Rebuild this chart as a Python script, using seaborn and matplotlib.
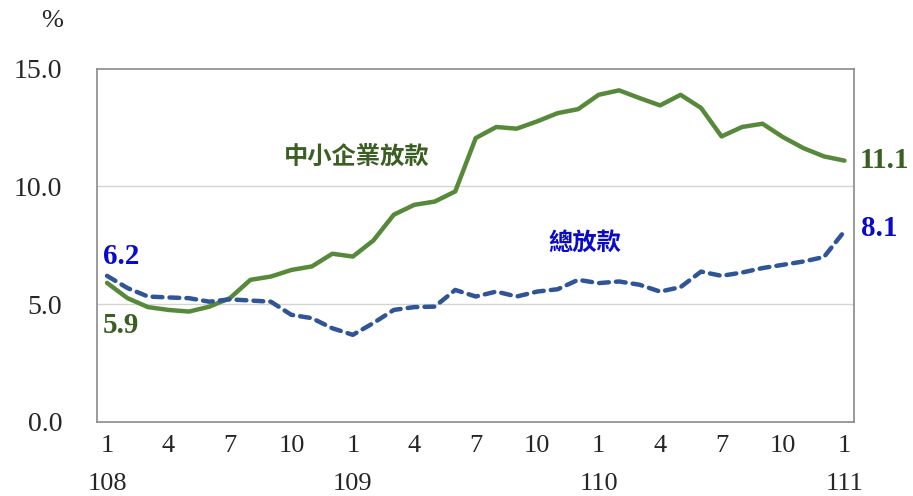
import numpy as np
import pandas as pd
import matplotlib.pyplot as plt
import matplotlib.transforms as mtransforms
from matplotlib.ticker import FixedLocator
import seaborn as sns

# ── Data (年增率, %) ──────────────────────────────────────────────
months = list(range(37))          # 108/1 .. 111/1
sme_loans = [5.9, 5.25, 4.87, 4.75, 4.68, 4.89, 5.25, 6.03, 6.17, 6.45,
             6.6, 7.14, 7.02, 7.7, 8.8, 9.22, 9.36, 9.79, 12.06, 12.53,
             12.46, 12.77, 13.12, 13.29, 13.9, 14.09, 13.76, 13.45, 13.9, 13.34,
             12.13, 12.53, 12.67, 12.1, 11.63, 11.28, 11.1]
total_loans = [6.2, 5.68, 5.32, 5.28, 5.25, 5.1, 5.2, 5.15, 5.1, 4.54,
               4.4, 3.97, 3.69, 4.19, 4.75, 4.87, 4.89, 5.6, 5.32, 5.53,
               5.32, 5.53, 5.63, 6.03, 5.89, 5.96, 5.82, 5.53, 5.72, 6.38,
               6.2, 6.34, 6.53, 6.67, 6.81, 7.0, 8.1]
month_labels = ['1', '4', '7', '10'] * 3 + ['1']
year_labels = ['108', '109', '110', '111']
yticks = [0, 5, 10, 15]

df = pd.DataFrame({'m': months, 'sme': sme_loans, 'total': total_loans})

green = '#568a3a'
green_txt = '#3b5e22'
blue = '#2f5597'
blue_txt = '#0a0acc'

# ── Style ─────────────────────────────────────────────────────────
sns.set_style('white')
plt.rcParams['font.family'] = ['Liberation Serif', 'Noto Sans CJK TC']

fig = plt.figure(figsize=(9.13, 4.96), dpi=100)
ax = fig.add_axes([0.106, 0.150, 0.829, 0.711])

# ── Lines ─────────────────────────────────────────────────────────
sns.lineplot(data=df, x='m', y='sme', color=green, lw=3.2, ax=ax,
             solid_capstyle='round')
sns.lineplot(data=df, x='m', y='total', color=blue, lw=3.2, ax=ax,
             linestyle=(0, (2.2, 1.6)), dash_capstyle='round')

ax.set_xlim(-0.5, 36.45)
ax.set_ylim(0, 15)
ax.set_xlabel('')
ax.set_ylabel('')

# grid + spines
for v in yticks[1:3]:
    ax.axhline(v, color='#d4d4d4', lw=1, zorder=0)
for s in ax.spines.values():
    s.set_color('#8a8a8a')
    s.set_linewidth(1.2)

# y axis
ax.set_yticks(yticks)
ax.set_yticklabels([f'{v:.1f}' for v in yticks], fontsize=20)
ax.tick_params(axis='y', direction='in', length=6, width=1, color='#555555', pad=25)

# x axis: short ticks at months, taller at month boundaries
lab = [''] * len(months)
for k, i in enumerate(range(0, 37, 3)):
    lab[i] = month_labels[k]
ax.xaxis.set_major_locator(FixedLocator(months))
ax.set_xticklabels(lab, fontsize=19)
ax.xaxis.set_minor_locator(FixedLocator([m + 0.5 for m in months[:-1]]))
ax.tick_params(axis='x', which='major', direction='in', length=4, width=1,
               color='#444444', pad=10)
ax.tick_params(axis='x', which='minor', direction='in', length=7, width=1,
               color='#444444')

trans = mtransforms.blended_transform_factory(ax.transData, ax.transAxes)
for k, y in enumerate(year_labels):
    ax.text(12 * k, -0.178, y, transform=trans, ha='center', va='center',
            fontsize=19)

# unit
ax.text(-0.045, 1.135, '%', transform=ax.transAxes, ha='right', va='center',
        fontsize=19)

# ── Labels ────────────────────────────────────────────────────────
ax.text(12.2, 11.26, '中小企業放款', color=green_txt, fontsize=17.5,
        fontweight='bold', ha='center', va='center',
        family=['Noto Sans CJK TC'])
ax.text(23.3, 7.6, '總放款', color=blue_txt, fontsize=17.5,
        fontweight='bold', ha='center', va='center',
        family=['Noto Sans CJK TC'])

ax.annotate(f'{total_loans[0]:.1f}', (months[0], total_loans[0]),
            xytext=(-3, 14), textcoords='offset points', color=blue_txt,
            fontsize=21, fontweight='bold', ha='left', va='center')
ax.annotate(f'{sme_loans[0]:.1f}', (months[0], sme_loans[0]),
            xytext=(-3, -31), textcoords='offset points', color=green_txt,
            fontsize=21, fontweight='bold', ha='left', va='center')
ax.annotate(f'{sme_loans[-1]:.1f}', (months[-1], sme_loans[-1]),
            xytext=(11, 0), textcoords='offset points', color=green_txt,
            fontsize=21, fontweight='bold', ha='left', va='center',
            annotation_clip=False)
ax.annotate(f'{total_loans[-1]:.1f}', (months[-1], total_loans[-1]),
            xytext=(12, 2), textcoords='offset points', color=blue_txt,
            fontsize=21, fontweight='bold', ha='left', va='center',
            annotation_clip=False)

fig.savefig('out.png', dpi=100)
